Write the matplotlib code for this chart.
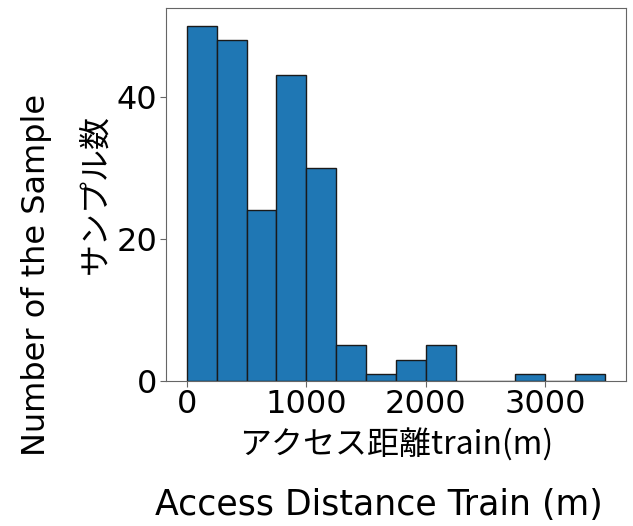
import numpy as np
import matplotlib
matplotlib.use('Agg')
import matplotlib.pyplot as plt

plt.rcParams['font.family'] = ['DejaVu Sans', 'Noto Sans CJK JP']

# Histogram bins (m) and counts
bin_edges = [0, 250, 500, 750, 1000, 1250, 1500, 1750, 2000, 2250,
             2500, 2750, 3000, 3250, 3500]
counts = [50, 48, 24, 43, 30, 5, 1, 3, 5, 0, 0, 1, 0, 1]

fig = plt.figure(figsize=(6.33, 5.26), dpi=100)
ax = fig.add_axes([0.262, 0.276, 0.727, 0.709])

ax.hist(bin_edges[:-1], bins=bin_edges, weights=counts,
        color='#1f77b4', edgecolor='#1a1a1a', linewidth=1.0)

ax.set_xticks([0, 1000, 2000, 3000])
ax.set_yticks([0, 20, 40])
ax.tick_params(labelsize=23, color='#666666', length=4, pad=2)
for s in ax.spines.values():
    s.set_color('#666666')

jp = ['Noto Sans CJK JP', 'DejaVu Sans']
ax.set_xlabel('アクセス距離train(m)', fontsize=23, family=jp, labelpad=6)
ax.set_ylabel('サンプル数', fontsize=23, family=jp, labelpad=4)

fig.text(0.599, 0.04, 'Access Distance Train (m)', fontsize=25,
         ha='center', va='center')
fig.text(0.058, 0.477, 'Number of the Sample', fontsize=23,
         ha='center', va='center', rotation=90)

fig.savefig('out.png', dpi=100)
